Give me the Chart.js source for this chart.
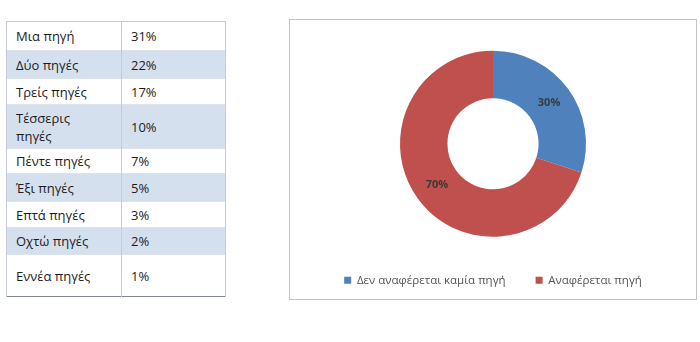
<!DOCTYPE html>
<html>
<head>
<meta charset="utf-8">
<script src="https://cdn.jsdelivr.net/npm/chart.js@4.4.1/dist/chart.umd.min.js"></script>
<style>
  body { margin: 0; width: 700px; height: 342px; background: #fff; position: relative; overflow: hidden; font-family: 'Open Sans', sans-serif; }
  #pinakas { position: absolute; left: 6px; top: 21px; width: 220px; border-collapse: collapse; font-size: 13px; color: #1c1c1c; }
  #pinakas td { padding: 0 0 0 9px; border-left: 1px solid #c5ccd6; border-right: 1px solid #c5ccd6; vertical-align: middle; line-height: 18px; }
  #pinakas tr { border-top: 1px solid #dde3ec; }
  #pinakas tr:first-child { border-top: 1px solid #c5ccd6; }
  #pinakas tr:nth-child(even) td { background: #d5e0ee; }
  #pinakas tr:last-child { border-bottom: 1px solid #7f8590; }
  #pinakas td:first-child { width: 105px; }
  #plaisio { position: absolute; left: 289px; top: 19px; width: 406px; height: 279px; border: 1px solid #c3c3c3; }
  #wrap { position: absolute; left: 290px; top: 20px; width: 406px; height: 322px; }
</style>
</head>
<body>
<table id="pinakas"></table>
<div id="plaisio"></div>
<div id="wrap"><canvas id="pigesChart"></canvas></div>
<script>
// πίνακας: πλήθος πηγών
const katigories = ['Μια πηγή', 'Δύο πηγές', 'Τρείς πηγές', 'Τέσσερις πηγές', 'Πέντε πηγές', 'Έξι πηγές', 'Επτά πηγές', 'Οχτώ πηγές', 'Εννέα πηγές'];
const pososta = [31, 22, 17, 10, 7, 5, 3, 2, 1];
const ypsi = [29, 28, 26, 44, 25, 28, 26, 27, 42];

const pinakas = document.getElementById('pinakas');
katigories.forEach((k, i) => {
    const tr = document.createElement('tr');
    tr.style.height = ypsi[i] + 'px';
    const td1 = document.createElement('td');
    td1.textContent = k;
    if (i === 3) td1.innerHTML = 'Τέσσερις<br>πηγές';
    const td2 = document.createElement('td');
    td2.textContent = pososta[i] + '%';
    tr.appendChild(td1);
    tr.appendChild(td2);
    pinakas.appendChild(tr);
});

// γράφημα δακτυλίου
const etiketes = ['Δεν αναφέρεται καμία πηγή', 'Αναφέρεται πηγή'];
const times = [30, 70];
const xromata = ['#4f81bd', '#c0504d'];

const posostaPlugin = {
    id: 'posostaPlugin',
    afterDatasetsDraw(chart) {
        const ctx = chart.ctx;
        const meta = chart.getDatasetMeta(0);
        ctx.save();
        ctx.font = "bold 11px 'Open Sans', sans-serif";
        ctx.fillStyle = '#3a3a3a';
        ctx.textAlign = 'center';
        ctx.textBaseline = 'middle';
        meta.data.forEach((arc, i) => {
            const p = arc.tooltipPosition();
            ctx.fillText(times[i] + '%', p.x, p.y);
        });
        ctx.restore();
    }
};

new Chart(document.getElementById('pigesChart'), {
    type: 'doughnut',
    data: {
        labels: etiketes,
        datasets: [{
            data: times,
            backgroundColor: xromata,
            borderWidth: 0,
            radius: 93,
            cutout: '49%'
        }]
    },
    options: {
        responsive: true,
        maintainAspectRatio: false,
        animation: false,
        layout: {
            padding: { top: 23, bottom: 46 }
        },
        plugins: {
            legend: {
                position: 'bottom',
                labels: {
                    boxWidth: 7,
                    boxHeight: 7,
                    padding: 30,
                    color: '#555555',
                    font: { family: "'Open Sans', sans-serif", size: 11.5 }
                }
            },
            tooltip: { enabled: false }
        }
    },
    plugins: [posostaPlugin]
});
</script>
</body>
</html>
